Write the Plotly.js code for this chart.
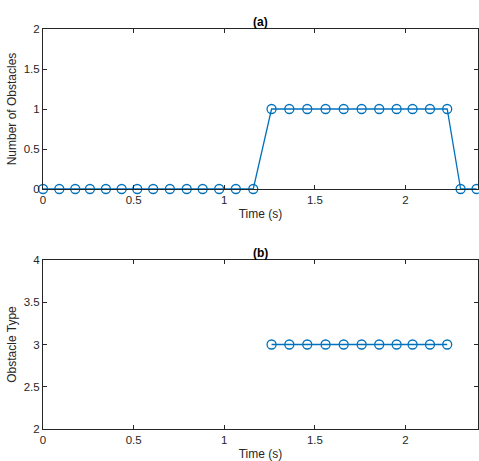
<!DOCTYPE html>
<html><head><meta charset="utf-8">
<script src="https://cdn.plot.ly/plotly-3.0.1.min.js"></script>
<style>html,body{margin:0;padding:0;background:#fff}#c{width:479px;height:461px}</style>
</head><body><div id="c"></div>
<script>
// Data
var timeA = [0, 0.090, 0.178, 0.259, 0.347, 0.434, 0.520, 0.608, 0.700, 0.793, 0.881, 0.972, 1.064, 1.160,
             1.261, 1.359, 1.458, 1.559, 1.659, 1.758, 1.855, 1.951, 2.039, 2.135, 2.230, 2.304, 2.392];
var obstacleCount = [0,0,0,0,0,0,0,0,0,0,0,0,0,0, 1,1,1,1,1,1,1,1,1,1,1, 0,0];
var timeB = [1.261, 1.359, 1.458, 1.559, 1.659, 1.758, 1.855, 1.951, 2.039, 2.135, 2.230];
var obstacleType = [3,3,3,3,3,3,3,3,3,3,3];
var xTicks = [0, 0.5, 1, 1.5, 2];
var xTickText = ['0', '0.5', '1', '1.5', '2'];
var yTicksA = [0, 0.5, 1, 1.5, 2];
var yTickTextA = ['0', '0.5', '1', '1.5', '2'];
var yTicksB = [2, 2.5, 3, 3.5, 4];
var yTickTextB = ['2', '2.5', '3', '3.5', '4'];

var blue = '#0072BD';
var mk = {symbol: 'circle-open', size: 9, color: blue, line: {width: 1.3, color: blue}};
var traces = [
  {x: timeA, y: obstacleCount, type: 'scatter', mode: 'lines+markers', line: {color: blue, width: 1.3},
   marker: mk, cliponaxis: false, xaxis: 'x', yaxis: 'y', showlegend: false},
  {x: timeB, y: obstacleType, type: 'scatter', mode: 'lines+markers', line: {color: blue, width: 1.3},
   marker: mk, cliponaxis: false, xaxis: 'x2', yaxis: 'y2', showlegend: false}
];
var font = {family: 'Liberation Sans, Arial, sans-serif', size: 12, color: '#262626'};
var tfont = {family: 'Liberation Sans, Arial, sans-serif', size: 11.5, color: '#262626'};
function xax(anchor) {
  return {range: [0, 2.4], tickvals: xTicks, ticktext: xTickText, ticks: 'inside', ticklen: 4,
    tickcolor: '#262626', showline: true, linecolor: '#262626', linewidth: 1, mirror: 'ticks',
    showgrid: false, zeroline: false, anchor: anchor, tickfont: tfont,
    title: {text: 'Time (s)', font: font, standoff: 4}};
}
function yax(range, tv, tt, dom, anchor, title) {
  return {range: range, tickvals: tv, ticktext: tt, ticks: 'inside', ticklen: 4, tickcolor: '#262626',
    showline: true, linecolor: '#262626', linewidth: 1, mirror: 'ticks', showgrid: false, zeroline: false,
    domain: dom, anchor: anchor, tickfont: tfont, title: {text: title, font: font, standoff: 4}};
}
var layout = {
  width: 479, height: 461, margin: {l: 43, r: 1, t: 29, b: 32},
  paper_bgcolor: '#fff', plot_bgcolor: '#fff', font: font,
  xaxis: xax('y'), yaxis: yax([0, 2], yTicksA, yTickTextA, [0.6, 1], 'x', 'Number of Obstacles'),
  xaxis2: xax('y2'), yaxis2: yax([2, 4], yTicksB, yTickTextB, [0, 0.4225], 'x2', 'Obstacle Type'),
  annotations: [
    {text: '<b>(a)</b>', xref: 'paper', yref: 'paper', x: 0.5, y: 1, yanchor: 'bottom', showarrow: false,
     font: {family: font.family, size: 12, color: '#000'}, yshift: -2},
    {text: '<b>(b)</b>', xref: 'paper', yref: 'paper', x: 0.5, y: 0.4225, yanchor: 'bottom', showarrow: false,
     font: {family: font.family, size: 12, color: '#000'}, yshift: -2}
  ]
};
Plotly.newPlot('c', traces, layout, {staticPlot: true, displayModeBar: false});
</script></body></html>
